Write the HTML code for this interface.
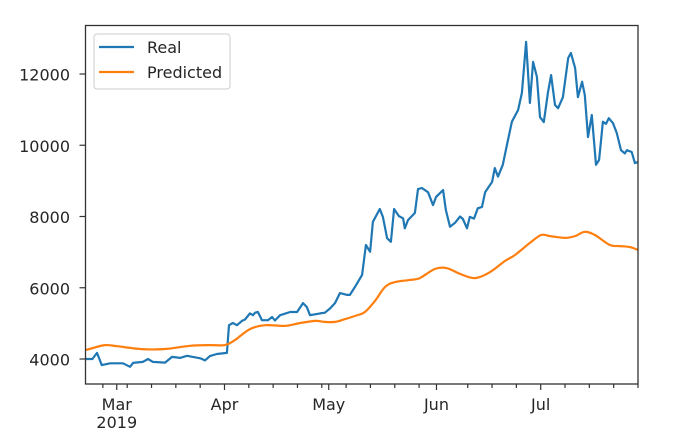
<!DOCTYPE html>
<html><head><meta charset="utf-8"><style>
html,body{margin:0;padding:0;background:#fff;}
svg{display:block;font-family:"DejaVu Sans","Liberation Sans",sans-serif;}
</style></head><body>
<svg id="chart" width="693" height="445" viewBox="0 0 693 445">
<rect x="0" y="0" width="693" height="445" fill="#fff"/>
<g id="marks"></g>
<g id="axes"></g>
</svg>
<script>
// Real price: day offsets from Feb 20 2019, values
const realDays=[0,2,3.3,4.7,7.1,10.8,12.8,13.7,16.5,18,19.4,22.9,24.9,27.2,29.2,33,34.4,35.8,37.8,40.7,41.3,42.4,43.6,45,45.9,47.3,48.2,48.8,49.6,50.8,52.5,53.7,54.5,56,58.9,60.9,62.6,63.7,64.6,67.5,68.9,70.4,71.8,73.2,75.3,76.1,77.6,79.6,80.7,81.9,82.7,84.7,85.6,86.8,87.9,88.8,90.2,91.4,91.9,92.8,94.8,95.7,96.8,98.6,100,100.9,102.9,103.7,104.9,106.3,107.8,108.6,109.8,110.6,111.8,112.9,114.1,115,117,117.8,118.7,120.1,121.6,122.7,124.5,125.6,126.8,127.9,128.8,129.9,130.8,131.9,133.1,134,135.1,136,137.4,138.9,139.7,140.9,141.7,142.9,143.7,144.6,145.7,146.9,147.8,148.9,149.8,150.6,151.8,152.9,154.1,155.2,155.8,157.2,158.1,159];
const realValues=[4000,4000,4170,3830,3880,3880,3780,3890,3920,4000,3920,3900,4060,4030,4090,4020,3960,4080,4140,4170,4950,5010,4950,5070,5110,5280,5230,5300,5320,5090,5090,5180,5080,5230,5320,5320,5570,5460,5230,5280,5300,5420,5570,5850,5800,5800,6030,6360,7200,7010,7850,8210,7990,7390,7290,8210,8010,7950,7670,7900,8100,8770,8800,8680,8320,8550,8740,8190,7710,7820,8000,7930,7670,7990,7940,8230,8270,8680,8970,9360,9120,9450,10150,10660,10990,11470,12900,11190,12340,11920,10790,10650,11490,11970,11130,11040,11350,12450,12590,12170,11350,11780,11410,10230,10850,9450,9590,10660,10600,10760,10620,10340,9860,9770,9860,9810,9500,9530];
const predDays=[0,2.2,5.6,9.1,15.7,22.9,30.1,35.8,40.1,43,47.3,51.7,57.4,61.8,66.2,68.9,71.8,74.7,77.6,80.4,83.3,86.2,89.1,93.4,96.2,100.6,104,107.8,112.1,116.4,120.7,123.6,127.9,131.1,133.7,138,140.9,143.7,146.6,150.9,153.8,156.7,159];
const predValues=[4250,4310,4390,4360,4280,4280,4370,4390,4390,4530,4840,4950,4930,5010,5070,5040,5040,5120,5210,5320,5630,6020,6160,6220,6270,6530,6550,6390,6270,6440,6750,6920,7260,7480,7450,7400,7450,7570,7480,7200,7170,7140,7060];
const yTicks=[4000,6000,8000,10000,12000];
const monthTickDays=[9,40,70,101,131];
const monthLabels=["Mar","Apr","May","Jun","Jul"];
const minorTickDays=[5,12,19,26,33,47,54,61,68,75,82,89,96,110,117,124,138,145,152,159];

const L=85.5,R=638,T=25.5,B=384;
const xs=d=>L+d*(R-L)/159;
const ys=v=>359-(v-4000)*0.035625;
const NS="http://www.w3.org/2000/svg";
const marks=document.getElementById('marks'),axes=document.getElementById('axes');
function mk(tag,attrs,parent){const e=document.createElementNS(NS,tag);for(const k in attrs)e.setAttribute(k,attrs[k]);parent.appendChild(e);return e;}

function line(days,vals,color,name,smooth){
  const pts=days.map((d,i)=>[xs(d),ys(vals[i])]);
  let dstr='M'+pts[0][0].toFixed(1)+','+pts[0][1].toFixed(1);
  for(let i=1;i<pts.length;i++){
    if(!smooth){dstr+='L'+pts[i][0].toFixed(1)+','+pts[i][1].toFixed(1);continue;}
    const p0=pts[Math.max(0,i-2)],p1=pts[i-1],p2=pts[i],p3=pts[Math.min(pts.length-1,i+1)];
    const c1=[p1[0]+(p2[0]-p0[0])/6,p1[1]+(p2[1]-p0[1])/6];
    const c2=[p2[0]-(p3[0]-p1[0])/6,p2[1]-(p3[1]-p1[1])/6];
    dstr+='C'+c1[0].toFixed(1)+','+c1[1].toFixed(1)+' '+c2[0].toFixed(1)+','+c2[1].toFixed(1)+' '+p2[0].toFixed(1)+','+p2[1].toFixed(1);
  }
  const p=mk('path',{d:dstr,fill:'none',stroke:color,'stroke-width':2.2,'stroke-linejoin':'round'},marks);
  
  
}
line(realDays,realValues,'#1f77b4','real-line',false);
line(predDays,predValues,'#ff7f0e','predicted-line',true);

const frame=mk('rect',{x:L,y:T,width:R-L,height:B-T,fill:'none',stroke:'#333','stroke-width':1.3},axes);



yTicks.forEach(v=>{
  const y=ys(v);
  mk('line',{x1:L-6,x2:L,y1:y,y2:y,stroke:'#333','stroke-width':1.2},axes);
  const t=mk('text',{x:70,y:y+6.5,'text-anchor':'end','font-size':16,fill:'#262626'},axes);
  t.textContent=v;
  
  
});
minorTickDays.forEach(d=>{mk('line',{x1:xs(d),x2:xs(d),y1:B,y2:B+4,stroke:'#333','stroke-width':1.2},axes);});
monthTickDays.forEach((d,i)=>{
  const x=xs(d);
  mk('line',{x1:x,x2:x,y1:B,y2:B+6,stroke:'#333','stroke-width':1.2},axes);
  const t=mk('text',{x:x,y:410,'text-anchor':'middle','font-size':16,fill:'#262626'},axes);
  t.textContent=monthLabels[i];
  
  
});
const yr=mk('text',{x:xs(9),y:428,'text-anchor':'middle','font-size':16,fill:'#262626'},axes);
yr.textContent='2019';



const lg=mk('g',{},axes);


mk('rect',{x:94,y:34,width:136,height:55,rx:3,fill:'#fff','fill-opacity':0.8,stroke:'#ccc','stroke-width':1},lg);
mk('line',{x1:99,x2:134,y1:47,y2:47,stroke:'#1f77b4','stroke-width':2.2},lg);
mk('line',{x1:99,x2:134,y1:72,y2:72,stroke:'#ff7f0e','stroke-width':2.2},lg);
const t1=mk('text',{x:147,y:53,'font-size':16,fill:'#262626'},lg);t1.textContent='Real';


const t2=mk('text',{x:147,y:78,'font-size':16,fill:'#262626'},lg);t2.textContent='Predicted';


</script>
</body></html>
